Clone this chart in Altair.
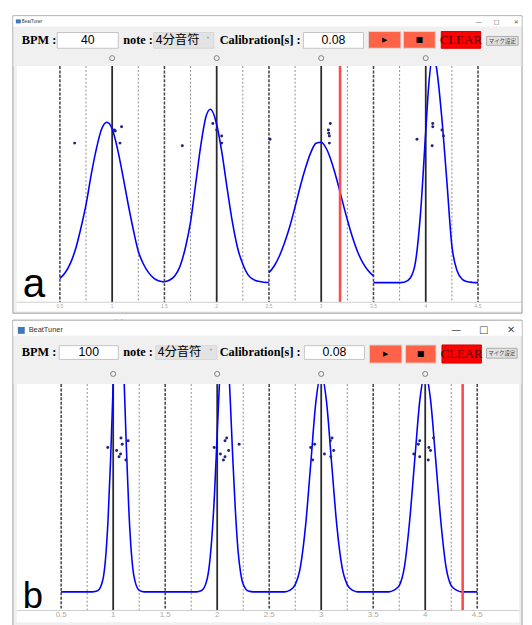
import altair as alt
import pandas as pd

# ---------------- data ----------------
BOUNDARIES = [0.5, 1.5, 2.5, 3.5, 4.5]
QUARTERS = [0.75, 1.25, 1.75, 2.25, 2.75, 3.25, 3.75, 4.25]
BEATS = [1, 2, 3, 4]
TICK_VALUES = [0.5, 1, 1.5, 2, 2.5, 3, 3.5, 4, 4.5]
TICK_LABELS = ["0.5", "1", "1.5", "2", "2.5", "3", "3.5", "4", "4.5"]

NOTE_LABEL = "4分音符"
CALIB = "0.08"

# ---- panel a (BPM 40) ----
A_BPM = "40"
A_RED = 3.18
A1_X = [0.5, 0.55, 0.6, 0.65, 0.7, 0.75, 0.8, 0.85, 0.9, 0.95, 1.0, 1.05, 1.1, 1.15, 1.2, 1.25, 1.3, 1.35, 1.4, 1.45, 1.5]
A1_Y = [0.02, 0.046, 0.089, 0.155, 0.25, 0.36, 0.5, 0.62, 0.71, 0.74, 0.71, 0.62, 0.5, 0.37, 0.25, 0.145, 0.085, 0.045, 0.02, 0.008, 0.003]
A2_X = [1.5, 1.55, 1.6, 1.65, 1.7, 1.75, 1.8, 1.85, 1.9, 1.94, 2.0, 2.05, 2.1, 2.15, 2.2, 2.25, 2.3, 2.35, 2.4, 2.45, 2.5]
A2_Y = [0.004, 0.012, 0.032, 0.077, 0.16, 0.28, 0.46, 0.64, 0.77, 0.8, 0.73, 0.6, 0.435, 0.28, 0.16, 0.085, 0.036, 0.015, 0.006, 0.002, 0.001]
A3_X = [2.5, 2.55, 2.6, 2.65, 2.7, 2.75, 2.8, 2.85, 2.9, 2.95, 3.0, 3.05, 3.1, 3.15, 3.2, 3.25, 3.3, 3.35, 3.4, 3.45, 3.5]
A3_Y = [0.046, 0.077, 0.123, 0.185, 0.26, 0.35, 0.445, 0.53, 0.6, 0.643, 0.648, 0.618, 0.556, 0.474, 0.381, 0.29, 0.208, 0.14, 0.09, 0.055, 0.031]
A4_X = [3.5, 3.6, 3.7, 3.75, 3.8, 3.85, 3.9, 3.95, 4.0, 4.03, 4.07, 4.1, 4.15, 4.2, 4.25, 4.3, 4.35, 4.4, 4.45, 4.5]
A4_Y = [0.0, 0.0, 0.0, 0.0, 0.003, 0.02, 0.09, 0.32, 0.7, 0.92, 1.05, 1.0, 0.78, 0.48, 0.17, 0.055, 0.015, 0.004, 0.001, 0.0]
A_DOT_X = [0.641, 1.021, 1.03, 1.09, 1.075, 1.671, 1.963, 2.0, 2.048, 2.048, 2.51,
           3.087, 3.068, 3.072, 3.078, 3.078, 3.916, 4.067, 4.067, 4.155, 4.17, 4.061]
A_DOT_Y = [0.644, 0.705, 0.7, 0.72, 0.644, 0.632, 0.735, 0.705, 0.677, 0.644, 0.662,
           0.735, 0.705, 0.69, 0.677, 0.644, 0.662, 0.735, 0.72, 0.705, 0.677, 0.632]

# ---- panel b (BPM 100) ----
B_BPM = "100"
B_RED = 4.36
B1_X = [0.5, 0.8, 0.85, 0.9, 0.925, 0.95, 0.975, 1.0, 1.025, 1.05, 1.075, 1.1, 1.125, 1.15, 1.175, 1.2, 1.25, 1.3, 1.5]
B1_Y = [0.0, 0.0, 0.005, 0.057, 0.151, 0.34, 0.636, 1.0, 1.33, 1.48, 1.38, 1.09, 0.72, 0.4, 0.187, 0.074, 0.007, 0.0, 0.0]
B2_X = [1.5, 1.8, 1.85, 1.9, 1.925, 1.95, 1.975, 2.0, 2.025, 2.05, 2.075, 2.1, 2.125, 2.15, 2.175, 2.2, 2.225, 2.25, 2.3, 2.35, 2.5]
B2_Y = [0.0, 0.0, 0.0065, 0.055, 0.13, 0.27, 0.48, 0.76, 1.04, 1.23, 1.29, 1.17, 0.93, 0.64, 0.39, 0.2, 0.093, 0.037, 0.004, 0.0, 0.0]
B3_X = [2.5, 2.65, 2.7, 2.75, 2.8, 2.85, 2.9, 2.95, 3.0, 3.05, 3.1, 3.15, 3.2, 3.25, 3.3, 3.35, 3.5]
B3_Y = [0.0, 0.0, 0.008, 0.035, 0.12, 0.32, 0.62, 0.92, 1.05, 0.92, 0.62, 0.32, 0.12, 0.035, 0.008, 0.0, 0.0]
B4_X = [3.5, 3.65, 3.7, 3.75, 3.8, 3.85, 3.9, 3.95, 4.0, 4.05, 4.1, 4.15, 4.2, 4.25, 4.3, 4.35, 4.5]
B4_Y = [0.0, 0.0, 0.008, 0.03, 0.12, 0.34, 0.64, 0.93, 1.05, 0.93, 0.64, 0.34, 0.12, 0.03, 0.008, 0.0, 0.0]
B_DOT_X = [0.948, 1.033, 1.075, 1.087, 1.071, 1.056, 1.122, 1.144,
           1.971, 2.031, 2.06, 2.075, 2.075, 2.091, 2.11, 2.211,
           2.899, 2.937, 2.918, 3.031, 3.088, 3.104, 3.12, 3.092,
           3.89, 3.934, 3.947, 3.947, 4.035, 4.051, 4.08, 4.029]
B_DOT_Y = [0.695, 0.68, 0.74, 0.71, 0.663, 0.65, 0.635, 0.727,
           0.695, 0.663, 0.635, 0.65, 0.727, 0.74, 0.68, 0.71,
           0.695, 0.71, 0.635, 0.663, 0.727, 0.74, 0.68, 0.65,
           0.663, 0.71, 0.727, 0.65, 0.695, 0.68, 0.74, 0.635]

# ---------------- helpers ----------------
SANS = "Liberation Sans"
SERIF = "Liberation Serif"
CJK = "Noto Sans CJK JP"
SYM = "DejaVu Sans"
W = 524
ONE = pd.DataFrame({"k": [0]})


def rect(x1, y1, x2, y2, fill, stroke=None, sw=1.0):
    kw = {"fill": fill, "strokeWidth": sw if stroke else 0}
    if stroke:
        kw["stroke"] = stroke
    return alt.Chart(ONE).mark_rect(**kw).encode(
        x=alt.value(x1), x2=alt.value(x2), y=alt.value(y1), y2=alt.value(y2))


def label(s, x, y, size, font=SANS, weight="normal", color="#000000", align="left", baseline="middle"):
    return alt.Chart(ONE).mark_text(text=s, fontSize=size, font=font, fontWeight=weight,
                                    color=color, align=align, baseline=baseline).encode(
        x=alt.value(x), y=alt.value(y))


def curve_frame(parts):
    rows = []
    for i, (xs, ys) in enumerate(parts):
        for x, y in zip(xs, ys):
            rows.append({"x": x, "y": y, "seg": i})
    return pd.DataFrame(rows)


def panel(cfg):
    xs = alt.Scale(domain=[0.5, 4.5], range=cfg["xrange"], nice=False, zero=False)
    ys = alt.Scale(domain=[0, 1], range=cfg["yrange"], nice=False, zero=False)
    X = alt.X("x:Q", scale=xs, axis=None)
    top, axy = cfg["plot_top"], cfg["axis_y"]
    L = []
    # window frame + plot area
    L.append(rect(5, 1, 522, cfg["frame_bottom"], "#f0f0f0", "#9c9c9c", 1))
    L.append(rect(9, top, cfg["plot_right"], cfg["plot_bottom"], "#ffffff"))
    # vertical guide lines
    L.append(alt.Chart(pd.DataFrame({"x": QUARTERS})).mark_rule(
        color="#8a8a8a", strokeWidth=1, strokeDash=[2, 2]).encode(x=X, y=alt.value(top), y2=alt.value(axy)))
    L.append(alt.Chart(pd.DataFrame({"x": BOUNDARIES})).mark_rule(
        color="#4a4a4a", strokeWidth=1.6, strokeDash=[3, 1.5]).encode(x=X, y=alt.value(top), y2=alt.value(axy)))
    L.append(alt.Chart(pd.DataFrame({"x": BEATS})).mark_rule(
        color="#2a2a2a", strokeWidth=1.8).encode(x=X, y=alt.value(top), y2=alt.value(axy)))
    # curves
    L.append(alt.Chart(curve_frame(cfg["curves"])).mark_line(
        color="#0000ff", strokeWidth=1.6, interpolate="monotone", clip=True).encode(
        x=X, y=alt.Y("y:Q", scale=ys, axis=None), detail="seg:N"))
    # taps
    L.append(alt.Chart(pd.DataFrame({"x": cfg["dx"], "y": cfg["dy"]})).mark_circle(
        size=9, color="#23237a", opacity=1).encode(x=X, y=alt.Y("y:Q", scale=ys, axis=None)))
    # current position
    L.append(alt.Chart(pd.DataFrame({"x": [cfg["red"]]})).mark_rule(
        color="#ff4a4a", strokeWidth=2.6).encode(x=X, y=alt.value(top), y2=alt.value(axy)))
    # axis
    L.append(rect(9, axy - 0.5, cfg["plot_right"], axy + 0.5, "#cfcfcf"))
    L.append(alt.Chart(pd.DataFrame({"x": TICK_VALUES, "t": TICK_LABELS})).mark_text(
        fontSize=cfg["tick_size"], font=SANS, color="#a8a8a8", baseline="middle").encode(
        x=X, y=alt.value(cfg["tick_y"]), text="t:N"))
    # big panel letter
    L.append(label(cfg["letter"], 15, cfg["letter_y"], cfg["letter_size"], baseline="alphabetic"))
    # top chrome (covers curve overflow)
    L.append(rect(0, -2, W, 0.6, "#ffffff"))
    L.append(rect(5.5, 1, 521.5, top, "#f0f0f0"))
    L.append(rect(5, 0.6, 522, 1.6, "#9c9c9c"))
    L.append(rect(5.5, 1.6, 521.5, cfg["title_bottom"], "#ffffff"))
    ic = cfg["icon"]
    L.append(rect(ic[0], ic[1], ic[2], ic[3], "#3f78b5"))
    L.append(label("BeatTuner", cfg["title_x"], cfg["title_y"], cfg["title_size"], color="#333333"))
    for gx, g in zip(cfg["ctrl_x"], ["—", "□", "✕"]):
        L.append(label(g, gx, cfg["title_y"], cfg["ctrl_size"], font=SYM, color="#444444", align="center"))
    ry = cfg["row_y"]
    b1, b2 = cfg["box_y"]
    L.append(label("BPM :", 14, ry, 12.5, font=SERIF, weight="bold"))
    L.append(rect(cfg["bpm_box"][0], b1, cfg["bpm_box"][1], b2, "#ffffff", "#c4c4c4"))
    L.append(label(cfg["bpm"], (cfg["bpm_box"][0] + cfg["bpm_box"][1]) / 2, ry, 12.5, align="center"))
    L.append(label("note :", 117, ry, 12.5, font=SERIF, weight="bold"))
    L.append(rect(cfg["combo"][0], b1, cfg["combo"][1], b2, "#e3e3e3", "#d6d6d6"))
    L.append(label(NOTE_LABEL, cfg["combo"][0] + 2, ry, 12.5, font=CJK))
    L.append(label("˅", cfg["combo"][1] - 6, ry + 1, 8, font=SYM, color="#777777", align="center"))
    L.append(label("Calibration[s] :", 215, ry, 12.5, font=SERIF, weight="bold"))
    L.append(rect(cfg["cal_box"][0], b1, cfg["cal_box"][1], b2, "#ffffff", "#c4c4c4"))
    L.append(label(CALIB, (cfg["cal_box"][0] + cfg["cal_box"][1]) / 2, ry, 12.5, align="center"))
    t1, t2 = cfg["btn_y"]
    bc = (t1 + t2) / 2
    for (x1, x2), g, gs in zip([cfg["play"], cfg["stop"]], ["▶", "■"], [7, 8]):
        L.append(rect(x1, t1, x2, t2, "#ff6347", "#d9d9d9"))
        L.append(label(g, (x1 + x2) / 2, bc, gs, font=SYM, align="center"))
    cx1, cx2 = cfg["clear"]
    L.append(rect(cx1, t1, cx2, t2, "#ff0000", "#d00000"))
    L.append(label("CLEAR", (cx1 + cx2) / 2, bc + 0.5, 13, font=SERIF, color="#5a0000", align="center"))
    m = cfg["mic"]
    L.append(rect(m[0], m[1], m[2], m[3], "#e1e1e1", "#adadad"))
    L.append(label("マイク設定", (m[0] + m[2]) / 2, (m[1] + m[3]) / 2, 5.5, font=CJK, color="#444444", align="center"))
    L.append(alt.Chart(pd.DataFrame({"x": BEATS})).mark_point(
        shape="circle", filled=False, size=26, color="#555555", strokeWidth=1).encode(
        x=X, y=alt.value(cfg["circle_y"])))
    return alt.layer(*L).properties(width=W, height=cfg["height"])


cfg_a = dict(
    height=309, xrange=[52.7, 477.3], yrange=[272, 52], plot_top=52, axis_y=292,
    plot_right=521, plot_bottom=301, frame_bottom=303,
    curves=[(A1_X, A1_Y), (A2_X, A2_Y), (A3_X, A3_Y), (A4_X, A4_Y)],
    dx=A_DOT_X, dy=A_DOT_Y, red=A_RED, tick_size=5, tick_y=295.5,
    letter="a", letter_y=287, letter_size=41,
    title_bottom=12, icon=(8, 4.7, 13, 8.7), title_x=14, title_y=7, title_size=4.5,
    ctrl_x=[478, 496, 516], ctrl_size=6,
    row_y=25.5, box_y=(18, 34), bpm=A_BPM, bpm_box=(50, 112), combo=(148, 209), cal_box=(300, 361),
    btn_y=(17, 34), play=(366, 399), stop=(401.5, 434), clear=(440, 480), mic=(486, 22, 518, 31),
    circle_y=44,
)

cfg_b = dict(
    height=308, xrange=[54, 476.5], yrange=[277, 66], plot_top=66, axis_y=296,
    plot_right=519, plot_bottom=308, frame_bottom=320,
    curves=[(B1_X, B1_Y), (B2_X, B2_Y), (B3_X, B3_Y), (B4_X, B4_Y)],
    dx=B_DOT_X, dy=B_DOT_Y, red=B_RED, tick_size=8, tick_y=300.5,
    letter="b", letter_y=293, letter_size=37,
    title_bottom=17, icon=(10, 8, 17, 15), title_x=21, title_y=11, title_size=7.5,
    ctrl_x=[455, 483, 511], ctrl_size=10,
    row_y=33, box_y=(27, 41), bpm=B_BPM, bpm_box=(52, 112), combo=(150, 212), cal_box=(301, 362),
    btn_y=(26.3, 44.7), play=(367, 400), stop=(403.7, 434.7), clear=(440.7, 480.7), mic=(486, 29.7, 517, 39.7),
    circle_y=55.7,
)

chart = alt.vconcat(panel(cfg_a), panel(cfg_b), spacing=0, bounds="flush").resolve_scale(
    x="independent", y="independent").properties(padding=0, background="white").configure_view(strokeWidth=0)

chart.save("out.html", embed_options={"renderer": "svg", "actions": False})
